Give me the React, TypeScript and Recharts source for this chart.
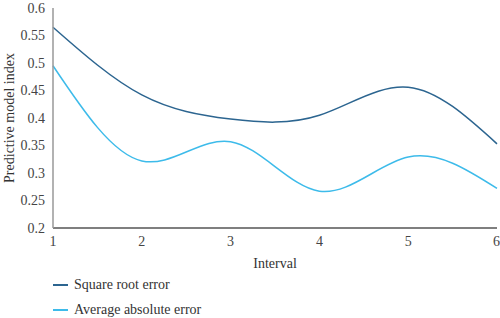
import { LineChart, Line, XAxis, YAxis } from 'recharts';

const intervals = [1, 2, 3, 4, 5, 6];
const squareRootError = [0.565, 0.442, 0.398, 0.405, 0.456, 0.353];
const averageAbsoluteError = [0.495, 0.322, 0.357, 0.267, 0.329, 0.272];
const yTicks = [0.2, 0.25, 0.3, 0.35, 0.4, 0.45, 0.5, 0.55, 0.6];

const series = [
    { key: 'sqrt', name: 'Square root error', color: '#2c6590' },
    { key: 'abs', name: 'Average absolute error', color: '#3dbbea' },
];

const data = intervals.map((x, i) => ({
    x,
    sqrt: squareRootError[i],
    abs: averageAbsoluteError[i],
}));

const font = '"Liberation Serif", serif';

export default function App() {
    return (
        <div style={{ position: 'absolute', left: 0, top: 0, width: 500, height: 318, background: '#fff' }}>
            <LineChart width={500} height={318} data={data} margin={{ top: 8, right: 3, bottom: 50, left: 0 }}>
                <XAxis
                    dataKey="x"
                    type="number"
                    domain={[1, 6]}
                    ticks={intervals}
                    tickLine={false}
                    axisLine={{ stroke: '#555', strokeWidth: 1.5 }}
                    tick={{ fill: '#444', fontFamily: font, fontSize: 14 }}
                    height={40}
                    label={{ value: 'Interval', position: 'insideBottom', offset: 0, fill: '#333', fontFamily: font, fontSize: 14 }}
                />
                <YAxis
                    width={53}
                    domain={[0.2, 0.6]}
                    ticks={yTicks}
                    tickLine={false}
                    axisLine={{ stroke: '#999', strokeWidth: 1.5 }}
                    tick={{ fill: '#444', fontFamily: font, fontSize: 14 }}
                    label={{ value: 'Predictive model index', angle: -90, position: 'insideLeft', offset: 9, style: { textAnchor: 'middle' }, fill: '#333', fontFamily: font, fontSize: 14 }}
                />
                {series.map((s) => (
                    <Line key={s.key} type="natural" dataKey={s.key} name={s.name} stroke={s.color} strokeWidth={1.5} dot={false} isAnimationActive={false} />
                ))}
            </LineChart>
            <div style={{ position: 'absolute', left: 53, top: 272, fontFamily: font, fontSize: 14, color: '#333' }}>
                {series.map((s) => (
                    <div key={s.key} style={{ display: 'flex', alignItems: 'center', height: 25 }}>
                        <span style={{ display: 'inline-block', width: 15, height: 2, background: s.color, marginRight: 6 }} />
                        {s.name}
                    </div>
                ))}
            </div>
        </div>
    );
}
